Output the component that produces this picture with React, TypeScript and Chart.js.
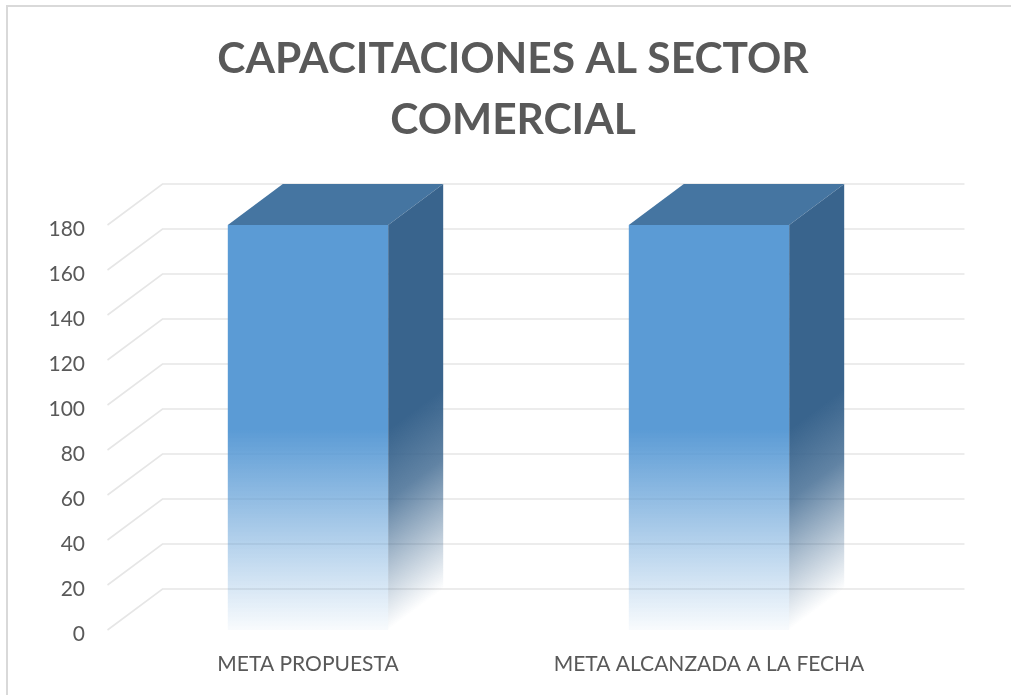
import React, { useEffect, useRef } from "react";
import { Chart, registerables } from "chart.js";

Chart.register(...registerables);

const TITLE_LINES = ["CAPACITACIONES AL SECTOR", "COMERCIAL"];
const CATEGORIES = ["META PROPUESTA", "META ALCANZADA A LA FECHA"];
const VALUES = [180, 180];
const Y_MIN = 0;
const Y_MAX = 180;
const Y_STEP = 20;
const FADE_VALUE = 89;

const DX = 55;
const DY = -41;
const FRONT_RGB = "91,155,213";
const SIDE_RGB = "57,100,141";
const TOP_COLOR = "#4575a1";
const TEXT_COLOR = "#595959";
const GRID_COLOR = "#e6e6e6";

const threeD = {
  id: "threeD",
  beforeDatasetsDraw(chart: any) {
    const { ctx, chartArea } = chart;
    const y = chart.scales.y;
    ctx.save();
    ctx.strokeStyle = GRID_COLOR;
    ctx.lineWidth = 1.6;
    y.ticks.forEach((t: any) => {
      const py = y.getPixelForValue(t.value);
      ctx.beginPath();
      ctx.moveTo(chartArea.left, py);
      ctx.lineTo(chartArea.left + DX, py + DY);
      ctx.lineTo(chartArea.right + DX, py + DY);
      ctx.stroke();
    });
    ctx.restore();
  },
  afterDatasetsDraw(chart: any) {
    const { ctx } = chart;
    const ys = chart.scales.y;
    const fadeTop = ys.getPixelForValue(FADE_VALUE);
    const meta = chart.getDatasetMeta(0);
    meta.data.forEach((bar: any) => {
      const { x, y, base, width } = bar.getProps(["x", "y", "base", "width"], true);
      const left = x - width / 2;
      const right = x + width / 2;
      ctx.save();
      ctx.fillStyle = TOP_COLOR;
      ctx.beginPath();
      ctx.moveTo(left, y);
      ctx.lineTo(right, y);
      ctx.lineTo(right + DX, y + DY);
      ctx.lineTo(left + DX, y + DY);
      ctx.closePath();
      ctx.fill();
      ctx.restore();
      ctx.save();
      ctx.transform(DX, DY, 0, 1, right, 0);
      const g = ctx.createLinearGradient(0, fadeTop, 0, base);
      g.addColorStop(0, `rgba(${SIDE_RGB},1)`);
      g.addColorStop(0.35, `rgba(${SIDE_RGB},0.8)`);
      g.addColorStop(1, `rgba(${SIDE_RGB},0)`);
      ctx.fillStyle = g;
      ctx.fillRect(0, y, 1, base - y);
      ctx.restore();
    });
  },
};

export default function App() {
  const ref = useRef<HTMLCanvasElement | null>(null);
  useEffect(() => {
    const canvas = ref.current;
    if (!canvas) return;
    const chart = new Chart(canvas, {
      type: "bar",
      data: {
        labels: CATEGORIES,
        datasets: [
          {
            data: VALUES,
            barPercentage: 0.8,
            categoryPercentage: 0.5,
            borderWidth: 0,
            backgroundColor: (c: any) => {
              const ch = c.chart;
              const ys = ch.scales.y;
              if (!ys || !ch.chartArea) return `rgb(${FRONT_RGB})`;
              const g = ch.ctx.createLinearGradient(0, ys.getPixelForValue(FADE_VALUE), 0, ys.getPixelForValue(Y_MIN));
              g.addColorStop(0, `rgba(${FRONT_RGB},1)`);
              g.addColorStop(1, `rgba(${FRONT_RGB},0.04)`);
              return g;
            },
          },
        ],
      },
      options: {
        responsive: false,
        animation: false,
        layout: { padding: { left: 15, right: 0, top: 0, bottom: 0 } },
        plugins: {
          legend: { display: false },
          tooltip: { enabled: false },
          title: {
            display: true,
            text: TITLE_LINES,
            color: TEXT_COLOR,
            font: { family: "Lato", size: 42.5, weight: "bold", lineHeight: 1.45 },
            padding: { top: 28, bottom: 73.75 },
          },
        },
        scales: {
          x: {
            grid: { display: false, drawTicks: false },
            border: { display: false },
            ticks: { color: TEXT_COLOR, font: { family: "Lato", size: 21 }, padding: 22 },
            afterFit: (s: any) => {
              s.height = 65;
            },
          },
          y: {
            min: Y_MIN,
            max: Y_MAX,
            grid: { display: false, drawTicks: false },
            border: { display: false },
            ticks: {
              stepSize: Y_STEP,
              color: TEXT_COLOR,
              font: { family: "Lato", size: 21 },
              padding: 22.5,
              labelOffset: 4,
            },
            afterFit: (s: any) => {
              s.width = 92.5;
            },
          },
          yRight: {
            position: "right",
            display: true,
            grid: { display: false, drawTicks: false },
            border: { display: false },
            ticks: { display: false },
            afterFit: (s: any) => {
              s.width = 101.5;
            },
          },
        },
      },
      plugins: [threeD],
    } as any);
    return () => chart.destroy();
  }, []);
  return (
    <div>
      <div
        style={{
          position: "fixed",
          left: 6,
          top: 5,
          width: 1100,
          height: 800,
          borderTop: "2px solid #d9d9d9",
          borderLeft: "2px solid #d9d9d9",
          boxSizing: "border-box",
        }}
      />
      <canvas ref={ref} width={1011} height={695} style={{ position: "fixed", left: 0, top: 0, width: 1011, height: 695 }} />
    </div>
  );
}
